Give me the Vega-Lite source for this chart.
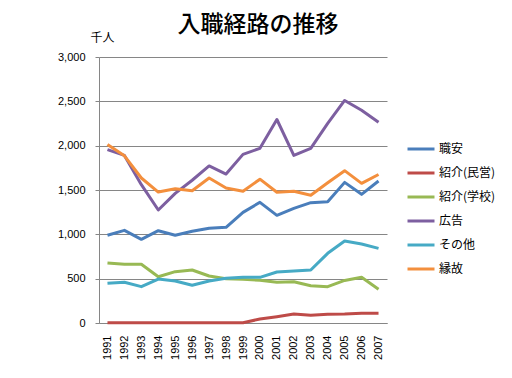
{
  "$schema": "https://vega.github.io/schema/vega-lite/v6.json",
  "autosize": {"type": "none"},
  "width": 288,
  "height": 266,
  "padding": {"left": 99, "top": 57, "right": 125, "bottom": 55},
  "background": "white",
  "title": {"text": "入職経路の推移", "font": "Noto Sans CJK JP", "fontSize": 23, "fontWeight": 500, "color": "black", "offset": -6, "dx": 15},
  "datasets": {
    "d": [
      {"year": "1991", "s": "職安", "v": 990}, {"year": "1992", "s": "職安", "v": 1045}, {"year": "1993", "s": "職安", "v": 944}, {"year": "1994", "s": "職安", "v": 1041}, {"year": "1995", "s": "職安", "v": 989}, {"year": "1996", "s": "職安", "v": 1034}, {"year": "1997", "s": "職安", "v": 1068}, {"year": "1998", "s": "職安", "v": 1079}, {"year": "1999", "s": "職安", "v": 1248}, {"year": "2000", "s": "職安", "v": 1361}, {"year": "2001", "s": "職安", "v": 1214}, {"year": "2002", "s": "職安", "v": 1293}, {"year": "2003", "s": "職安", "v": 1357}, {"year": "2004", "s": "職安", "v": 1368}, {"year": "2005", "s": "職安", "v": 1586}, {"year": "2006", "s": "職安", "v": 1451}, {"year": "2007", "s": "職安", "v": 1601},
      {"year": "1991", "s": "紹介(民営)", "v": 3}, {"year": "1992", "s": "紹介(民営)", "v": 3}, {"year": "1993", "s": "紹介(民営)", "v": 3}, {"year": "1994", "s": "紹介(民営)", "v": 3}, {"year": "1995", "s": "紹介(民営)", "v": 3}, {"year": "1996", "s": "紹介(民営)", "v": 3}, {"year": "1997", "s": "紹介(民営)", "v": 3}, {"year": "1998", "s": "紹介(民営)", "v": 3}, {"year": "1999", "s": "紹介(民営)", "v": 3}, {"year": "2000", "s": "紹介(民営)", "v": 45}, {"year": "2001", "s": "紹介(民営)", "v": 71}, {"year": "2002", "s": "紹介(民営)", "v": 101}, {"year": "2003", "s": "紹介(民営)", "v": 87}, {"year": "2004", "s": "紹介(民営)", "v": 98}, {"year": "2005", "s": "紹介(民営)", "v": 101}, {"year": "2006", "s": "紹介(民営)", "v": 109}, {"year": "2007", "s": "紹介(民営)", "v": 109},
      {"year": "1991", "s": "紹介(学校)", "v": 677}, {"year": "1992", "s": "紹介(学校)", "v": 662}, {"year": "1993", "s": "紹介(学校)", "v": 662}, {"year": "1994", "s": "紹介(学校)", "v": 522}, {"year": "1995", "s": "紹介(学校)", "v": 579}, {"year": "1996", "s": "紹介(学校)", "v": 598}, {"year": "1997", "s": "紹介(学校)", "v": 530}, {"year": "1998", "s": "紹介(学校)", "v": 500}, {"year": "1999", "s": "紹介(学校)", "v": 492}, {"year": "2000", "s": "紹介(学校)", "v": 482}, {"year": "2001", "s": "紹介(学校)", "v": 459}, {"year": "2002", "s": "紹介(学校)", "v": 466}, {"year": "2003", "s": "紹介(学校)", "v": 421}, {"year": "2004", "s": "紹介(学校)", "v": 410}, {"year": "2005", "s": "紹介(学校)", "v": 480}, {"year": "2006", "s": "紹介(学校)", "v": 515}, {"year": "2007", "s": "紹介(学校)", "v": 380},
      {"year": "1991", "s": "広告", "v": 1955}, {"year": "1992", "s": "広告", "v": 1890}, {"year": "1993", "s": "広告", "v": 1560}, {"year": "1994", "s": "広告", "v": 1274}, {"year": "1995", "s": "広告", "v": 1462}, {"year": "1996", "s": "広告", "v": 1610}, {"year": "1997", "s": "広告", "v": 1771}, {"year": "1998", "s": "広告", "v": 1680}, {"year": "1999", "s": "広告", "v": 1902}, {"year": "2000", "s": "広告", "v": 1970}, {"year": "2001", "s": "広告", "v": 2295}, {"year": "2002", "s": "広告", "v": 1891}, {"year": "2003", "s": "広告", "v": 1970}, {"year": "2004", "s": "広告", "v": 2252}, {"year": "2005", "s": "広告", "v": 2510}, {"year": "2006", "s": "広告", "v": 2400}, {"year": "2007", "s": "広告", "v": 2265},
      {"year": "1991", "s": "その他", "v": 447}, {"year": "1992", "s": "その他", "v": 459}, {"year": "1993", "s": "その他", "v": 410}, {"year": "1994", "s": "その他", "v": 496}, {"year": "1995", "s": "その他", "v": 474}, {"year": "1996", "s": "その他", "v": 425}, {"year": "1997", "s": "その他", "v": 474}, {"year": "1998", "s": "その他", "v": 504}, {"year": "1999", "s": "その他", "v": 515}, {"year": "2000", "s": "その他", "v": 515}, {"year": "2001", "s": "その他", "v": 575}, {"year": "2002", "s": "その他", "v": 586}, {"year": "2003", "s": "その他", "v": 598}, {"year": "2004", "s": "その他", "v": 786}, {"year": "2005", "s": "その他", "v": 925}, {"year": "2006", "s": "その他", "v": 891}, {"year": "2007", "s": "その他", "v": 842},
      {"year": "1991", "s": "縁故", "v": 2012}, {"year": "1992", "s": "縁故", "v": 1885}, {"year": "1993", "s": "縁故", "v": 1635}, {"year": "1994", "s": "縁故", "v": 1477}, {"year": "1995", "s": "縁故", "v": 1515}, {"year": "1996", "s": "縁故", "v": 1492}, {"year": "1997", "s": "縁故", "v": 1635}, {"year": "1998", "s": "縁故", "v": 1522}, {"year": "1999", "s": "縁故", "v": 1485}, {"year": "2000", "s": "縁故", "v": 1622}, {"year": "2001", "s": "縁故", "v": 1474}, {"year": "2002", "s": "縁故", "v": 1485}, {"year": "2003", "s": "縁故", "v": 1440}, {"year": "2004", "s": "縁故", "v": 1582}, {"year": "2005", "s": "縁故", "v": 1718}, {"year": "2006", "s": "縁故", "v": 1575}, {"year": "2007", "s": "縁故", "v": 1675}
    ]
  },
  "data": {"name": "d"},
  "config": {
    "view": {"stroke": null},
    "axis": {"labelColor": "black", "labelFont": "Liberation Sans", "labelFontSize": 11, "gridColor": "#868686", "domainColor": "#868686", "tickColor": "#868686"}
  },
  "mark": {"type": "line", "strokeWidth": 3, "strokeJoin": "round"},
  "encoding": {
    "x": {
      "field": "year", "type": "ordinal",
      "scale": {"type": "point", "padding": 0.5},
      "axis": {"title": null, "labelAngle": -90, "labelAlign": "right", "labelBaseline": "middle", "ticks": false, "labelPadding": 12, "grid": false}
    },
    "y": {
      "field": "v", "type": "quantitative",
      "scale": {"domain": [0, 3000], "nice": false},
      "axis": {"values": [0, 500, 1000, 1500, 2000, 2500, 3000], "format": ",d", "tickSize": 4, "labelPadding": 10, "title": "千人", "titleAngle": 0, "titleFont": "Noto Sans CJK JP", "titleFontSize": 12, "titleFontWeight": "normal", "titleColor": "black", "titleX": 3, "titleY": -13, "titleAlign": "center", "titleBaseline": "bottom"}
    },
    "color": {
      "field": "s", "type": "nominal",
      "scale": {"domain": ["職安", "紹介(民営)", "紹介(学校)", "広告", "その他", "縁故"], "range": ["#4A7EBB", "#BE4B48", "#98B954", "#7D5FA0", "#46AAC5", "#F38F3D"]},
      "legend": {"title": null, "orient": "none", "legendX": 307, "legendY": 80, "symbolType": "stroke", "symbolSize": 729, "symbolStrokeWidth": 3, "labelFont": "Noto Sans CJK JP", "labelFontSize": 12, "labelColor": "black", "labelOffset": 3, "rowPadding": 0, "clipHeight": 24, "padding": 0}
    }
  }
}
